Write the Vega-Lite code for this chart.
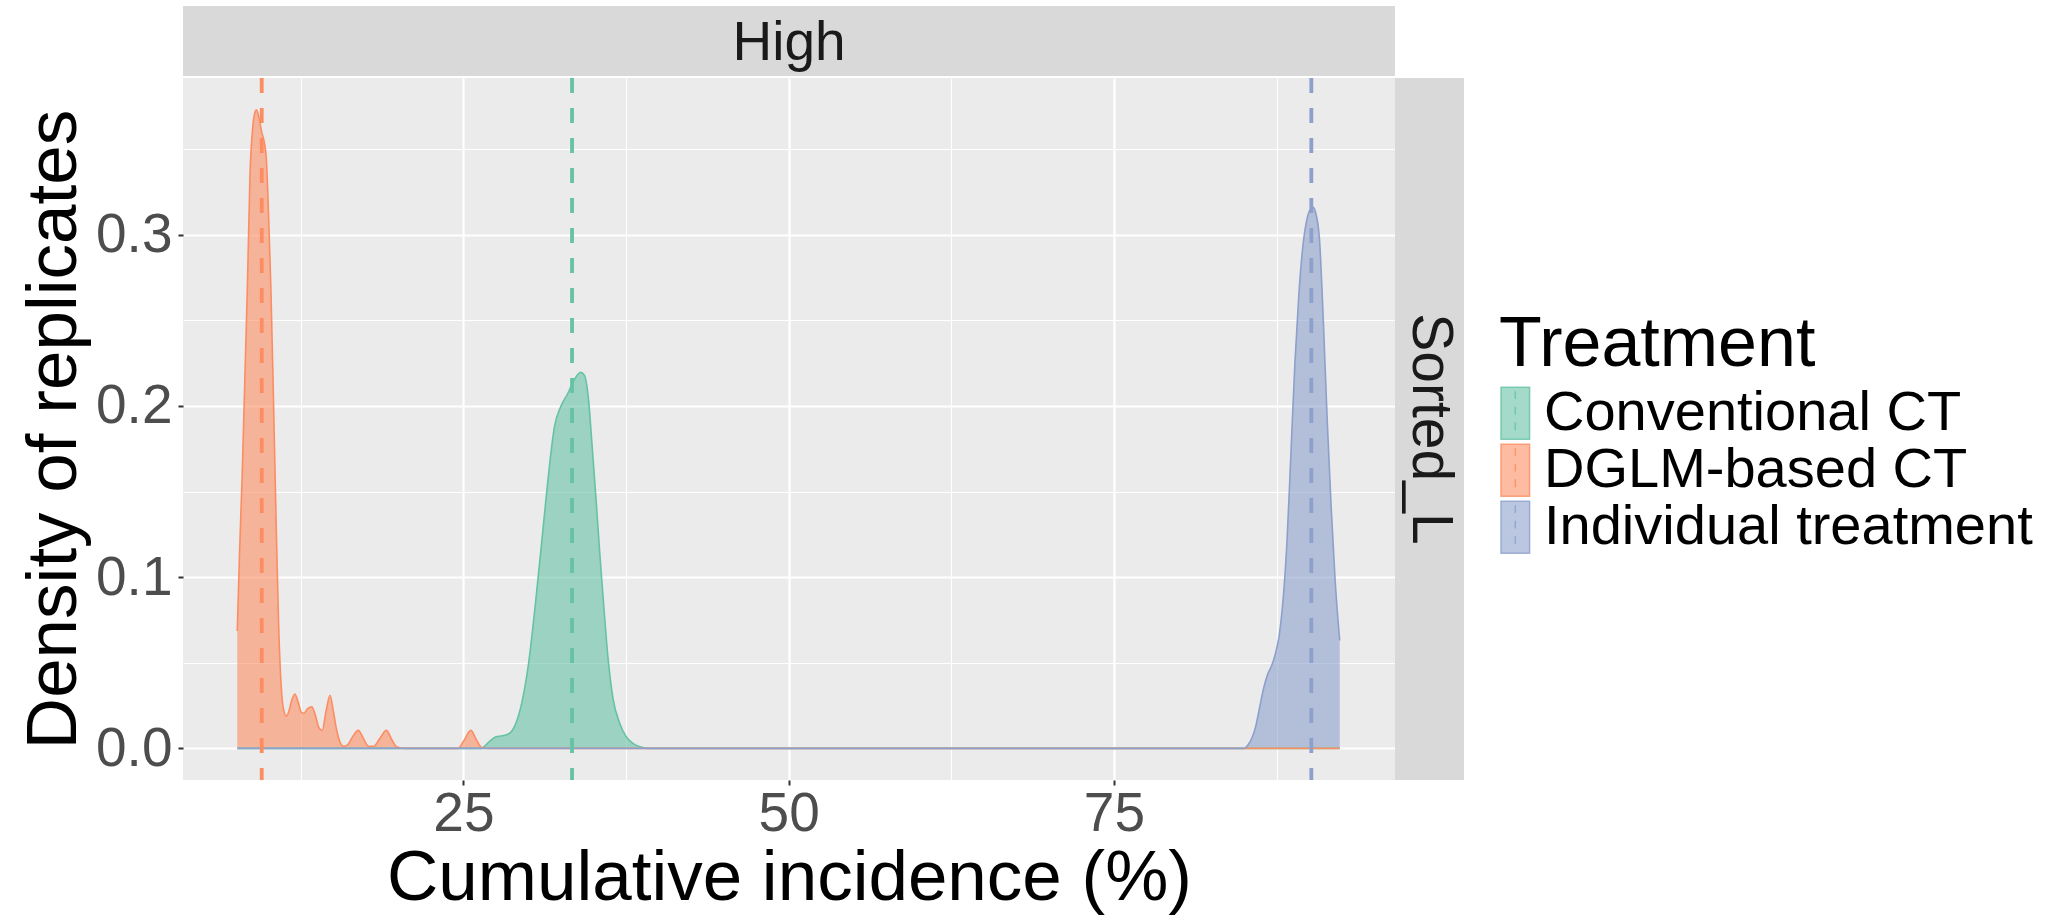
{
  "$schema": "https://vega.github.io/schema/vega-lite/v6.json",
  "background": "white",
  "padding": {"left": 18, "top": 6, "right": 5, "bottom": 5},
  "config": {
    "font": "Liberation Sans",
    "view": {"stroke": null},
    "text": {"font": "Liberation Sans"}
  },
  "datasets": {
    "density": [
      {"treatment": "Conventional CT", "incidence": 7.62, "density": 0},
      {"treatment": "Conventional CT", "incidence": 26.4, "density": 0},
      {"treatment": "Conventional CT", "incidence": 26.6, "density": 0.001},
      {"treatment": "Conventional CT", "incidence": 27.0, "density": 0.004},
      {"treatment": "Conventional CT", "incidence": 27.5, "density": 0.0068},
      {"treatment": "Conventional CT", "incidence": 28.0, "density": 0.0073},
      {"treatment": "Conventional CT", "incidence": 28.5, "density": 0.0085},
      {"treatment": "Conventional CT", "incidence": 29.0, "density": 0.014},
      {"treatment": "Conventional CT", "incidence": 29.5, "density": 0.027},
      {"treatment": "Conventional CT", "incidence": 30.0, "density": 0.049},
      {"treatment": "Conventional CT", "incidence": 30.5, "density": 0.082},
      {"treatment": "Conventional CT", "incidence": 31.0, "density": 0.119},
      {"treatment": "Conventional CT", "incidence": 31.5, "density": 0.157},
      {"treatment": "Conventional CT", "incidence": 32.0, "density": 0.188},
      {"treatment": "Conventional CT", "incidence": 32.5, "density": 0.200},
      {"treatment": "Conventional CT", "incidence": 33.0, "density": 0.207},
      {"treatment": "Conventional CT", "incidence": 33.5, "density": 0.215},
      {"treatment": "Conventional CT", "incidence": 34.0, "density": 0.2197},
      {"treatment": "Conventional CT", "incidence": 34.3, "density": 0.218},
      {"treatment": "Conventional CT", "incidence": 34.6, "density": 0.205},
      {"treatment": "Conventional CT", "incidence": 34.9, "density": 0.176},
      {"treatment": "Conventional CT", "incidence": 35.2, "density": 0.145},
      {"treatment": "Conventional CT", "incidence": 35.5, "density": 0.112},
      {"treatment": "Conventional CT", "incidence": 35.8, "density": 0.082},
      {"treatment": "Conventional CT", "incidence": 36.1, "density": 0.054},
      {"treatment": "Conventional CT", "incidence": 36.5, "density": 0.029},
      {"treatment": "Conventional CT", "incidence": 37.0, "density": 0.015},
      {"treatment": "Conventional CT", "incidence": 37.5, "density": 0.007},
      {"treatment": "Conventional CT", "incidence": 38.0, "density": 0.003},
      {"treatment": "Conventional CT", "incidence": 38.5, "density": 0.001},
      {"treatment": "Conventional CT", "incidence": 39.2, "density": 0},
      {"treatment": "Conventional CT", "incidence": 92.35, "density": 0},
      {"treatment": "DGLM-based CT", "incidence": 7.62, "density": 0.0685},
      {"treatment": "DGLM-based CT", "incidence": 7.8, "density": 0.115},
      {"treatment": "DGLM-based CT", "incidence": 8.0, "density": 0.160},
      {"treatment": "DGLM-based CT", "incidence": 8.2, "density": 0.215},
      {"treatment": "DGLM-based CT", "incidence": 8.4, "density": 0.270},
      {"treatment": "DGLM-based CT", "incidence": 8.6, "density": 0.335},
      {"treatment": "DGLM-based CT", "incidence": 8.8, "density": 0.362},
      {"treatment": "DGLM-based CT", "incidence": 9.0, "density": 0.372},
      {"treatment": "DGLM-based CT", "incidence": 9.1, "density": 0.373},
      {"treatment": "DGLM-based CT", "incidence": 9.3, "density": 0.368},
      {"treatment": "DGLM-based CT", "incidence": 9.5, "density": 0.360},
      {"treatment": "DGLM-based CT", "incidence": 9.7, "density": 0.354},
      {"treatment": "DGLM-based CT", "incidence": 9.85, "density": 0.345},
      {"treatment": "DGLM-based CT", "incidence": 10.0, "density": 0.318},
      {"treatment": "DGLM-based CT", "incidence": 10.2, "density": 0.270},
      {"treatment": "DGLM-based CT", "incidence": 10.4, "density": 0.205},
      {"treatment": "DGLM-based CT", "incidence": 10.6, "density": 0.135},
      {"treatment": "DGLM-based CT", "incidence": 10.8, "density": 0.072},
      {"treatment": "DGLM-based CT", "incidence": 11.0, "density": 0.036},
      {"treatment": "DGLM-based CT", "incidence": 11.2, "density": 0.022},
      {"treatment": "DGLM-based CT", "incidence": 11.4, "density": 0.0188},
      {"treatment": "DGLM-based CT", "incidence": 11.6, "density": 0.022},
      {"treatment": "DGLM-based CT", "incidence": 11.8, "density": 0.028},
      {"treatment": "DGLM-based CT", "incidence": 12.05, "density": 0.0317},
      {"treatment": "DGLM-based CT", "incidence": 12.3, "density": 0.027},
      {"treatment": "DGLM-based CT", "incidence": 12.55, "density": 0.021},
      {"treatment": "DGLM-based CT", "incidence": 12.75, "density": 0.0205},
      {"treatment": "DGLM-based CT", "incidence": 13.0, "density": 0.023},
      {"treatment": "DGLM-based CT", "incidence": 13.35, "density": 0.0243},
      {"treatment": "DGLM-based CT", "incidence": 13.6, "density": 0.020},
      {"treatment": "DGLM-based CT", "incidence": 13.9, "density": 0.012},
      {"treatment": "DGLM-based CT", "incidence": 14.15, "density": 0.0105},
      {"treatment": "DGLM-based CT", "incidence": 14.45, "density": 0.022},
      {"treatment": "DGLM-based CT", "incidence": 14.75, "density": 0.031},
      {"treatment": "DGLM-based CT", "incidence": 15.0, "density": 0.022},
      {"treatment": "DGLM-based CT", "incidence": 15.25, "density": 0.011},
      {"treatment": "DGLM-based CT", "incidence": 15.5, "density": 0.004},
      {"treatment": "DGLM-based CT", "incidence": 15.8, "density": 0.0012},
      {"treatment": "DGLM-based CT", "incidence": 16.1, "density": 0.002},
      {"treatment": "DGLM-based CT", "incidence": 16.5, "density": 0.007},
      {"treatment": "DGLM-based CT", "incidence": 16.92, "density": 0.0105},
      {"treatment": "DGLM-based CT", "incidence": 17.3, "density": 0.006},
      {"treatment": "DGLM-based CT", "incidence": 17.7, "density": 0.0012},
      {"treatment": "DGLM-based CT", "incidence": 18.1, "density": 0.0012},
      {"treatment": "DGLM-based CT", "incidence": 18.6, "density": 0.006},
      {"treatment": "DGLM-based CT", "incidence": 19.08, "density": 0.0105},
      {"treatment": "DGLM-based CT", "incidence": 19.5, "density": 0.005},
      {"treatment": "DGLM-based CT", "incidence": 19.9, "density": 0.0008},
      {"treatment": "DGLM-based CT", "incidence": 20.5, "density": 0},
      {"treatment": "DGLM-based CT", "incidence": 24.6, "density": 0},
      {"treatment": "DGLM-based CT", "incidence": 25.0, "density": 0.004},
      {"treatment": "DGLM-based CT", "incidence": 25.57, "density": 0.0105},
      {"treatment": "DGLM-based CT", "incidence": 26.0, "density": 0.005},
      {"treatment": "DGLM-based CT", "incidence": 26.4, "density": 0.0005},
      {"treatment": "DGLM-based CT", "incidence": 27.0, "density": 0},
      {"treatment": "DGLM-based CT", "incidence": 92.35, "density": 0},
      {"treatment": "Individual treatment", "incidence": 7.62, "density": 0},
      {"treatment": "Individual treatment", "incidence": 85.0, "density": 0},
      {"treatment": "Individual treatment", "incidence": 85.3, "density": 0.002},
      {"treatment": "Individual treatment", "incidence": 85.6, "density": 0.006},
      {"treatment": "Individual treatment", "incidence": 85.9, "density": 0.013},
      {"treatment": "Individual treatment", "incidence": 86.2, "density": 0.024},
      {"treatment": "Individual treatment", "incidence": 86.5, "density": 0.035},
      {"treatment": "Individual treatment", "incidence": 86.8, "density": 0.043},
      {"treatment": "Individual treatment", "incidence": 87.1, "density": 0.048},
      {"treatment": "Individual treatment", "incidence": 87.4, "density": 0.055},
      {"treatment": "Individual treatment", "incidence": 87.7, "density": 0.066},
      {"treatment": "Individual treatment", "incidence": 88.0, "density": 0.087},
      {"treatment": "Individual treatment", "incidence": 88.3, "density": 0.121},
      {"treatment": "Individual treatment", "incidence": 88.6, "density": 0.172},
      {"treatment": "Individual treatment", "incidence": 88.9, "density": 0.224},
      {"treatment": "Individual treatment", "incidence": 89.2, "density": 0.264},
      {"treatment": "Individual treatment", "incidence": 89.5, "density": 0.292},
      {"treatment": "Individual treatment", "incidence": 89.8, "density": 0.308},
      {"treatment": "Individual treatment", "incidence": 90.1, "density": 0.315},
      {"treatment": "Individual treatment", "incidence": 90.3, "density": 0.316},
      {"treatment": "Individual treatment", "incidence": 90.5, "density": 0.313},
      {"treatment": "Individual treatment", "incidence": 90.8, "density": 0.297},
      {"treatment": "Individual treatment", "incidence": 91.1, "density": 0.248},
      {"treatment": "Individual treatment", "incidence": 91.4, "density": 0.190},
      {"treatment": "Individual treatment", "incidence": 91.7, "density": 0.140},
      {"treatment": "Individual treatment", "incidence": 92.0, "density": 0.098},
      {"treatment": "Individual treatment", "incidence": 92.35, "density": 0.063}
    ],
    "means": [
      {"treatment": "Conventional CT", "mean": 33.35},
      {"treatment": "DGLM-based CT", "mean": 9.5},
      {"treatment": "Individual treatment", "mean": 90.17}
    ],
    "stripTop": [{"label": "High"}],
    "stripRight": [{"label": "Sorted_L"}]
  },
  "columns": 2,
  "spacing": 0,
  "align": "each",
  "concat": [
    {
      "width": 1212,
      "height": 70,
      "view": {"fill": "#D9D9D9", "stroke": null},
      "data": {"name": "stripTop"},
      "mark": {"type": "text", "fontSize": 55, "color": "#1A1A1A", "baseline": "middle", "align": "center", "dy": 2},
      "encoding": {"text": {"field": "label"}}
    },
    {
      "width": 69,
      "height": 70,
      "data": {"name": "stripTop"},
      "mark": {"type": "text", "opacity": 0},
      "encoding": {"text": {"field": "label"}}
    },
    {
      "width": 1212,
      "height": 702,
      "view": {"fill": "#EBEBEB", "stroke": null},
      "encoding": {
        "x": {
          "field": "incidence",
          "type": "quantitative",
          "scale": {"domain": [3.45, 96.6], "nice": false, "zero": false},
          "axis": {
            "values": [12.5, 25, 37.5, 50, 62.5, 75, 87.5],
            "format": "d",
            "labelExpr": "datum.value % 25 === 0 ? datum.label : ''",
            "title": "Cumulative incidence (%)",
            "titleFontSize": 71,
            "titleFontWeight": "normal",
            "titleColor": "#000000",
            "titlePadding": 2,
            "labelFontSize": 55,
            "labelColor": "#4D4D4D",
            "labelPadding": 2,
            "tickSize": 5,
            "tickWidth": 2,
            "tickColor": "#333333",
            "tickOpacity": {"condition": {"test": "datum.value % 25 === 0", "value": 1}, "value": 0},
            "domain": false,
            "grid": true,
            "gridColor": "#FFFFFF",
            "gridOpacity": 1,
            "gridWidth": {"condition": {"test": "datum.value % 25 === 0", "value": 2.2}, "value": 1.1},
            "labelFlush": false
          }
        },
        "color": {
          "field": "treatment",
          "type": "nominal",
          "scale": {
            "domain": ["Conventional CT", "DGLM-based CT", "Individual treatment"],
            "range": ["#66C2A5", "#FC8D62", "#8DA0CB"]
          },
          "legend": {
            "title": "Treatment",
            "orient": "none",
            "legendX": 1316,
            "legendY": 305,
            "padding": 0,
            "titleFontSize": 70,
            "titleFontWeight": "normal",
            "titleColor": "#000000",
            "titlePadding": 5,
            "titleLimit": 1000,
            "labelFontSize": 56,
            "labelColor": "#000000",
            "labelLimit": 1000,
            "labelOffset": -11,
            "symbolType": "M-1,-1H0.1V1H-1ZM-0.45,-0.85V-0.55M-0.45,-0.25V0.05M-0.45,0.35V0.65",
            "symbolSize": 2704,
            "symbolStrokeWidth": 1.5,
            "symbolOpacity": 1,
            "clipHeight": 54.5,
            "rowPadding": 0,
            "encode": {
              "symbols": {
                "update": {
                  "fill": {"scale": "color", "field": "value"},
                  "fillOpacity": {"value": 0.6},
                  "stroke": {"scale": "color", "field": "value"},
                  "strokeOpacity": {"value": 0.8}
                }
              }
            }
          }
        }
      },
      "layer": [
        {
          "data": {"name": "density"},
          "mark": {"type": "area", "interpolate": "monotone", "fillOpacity": 0.6},
          "encoding": {
            "y": {
              "field": "density",
              "type": "quantitative",
              "stack": null,
              "scale": {"domain": [-0.0185, 0.3916], "nice": false, "zero": false},
              "axis": {
                "values": [0, 0.05, 0.1, 0.15, 0.2, 0.25, 0.3, 0.35],
                "format": ".1f",
                "labelExpr": "round(datum.value * 100) % 10 === 0 ? datum.label : ''",
                "title": "Density of replicates",
                "titleFontSize": 71,
                "titleFontWeight": "normal",
                "titleColor": "#000000",
                "titlePadding": 5,
                "labelFontSize": 55,
                "labelColor": "#4D4D4D",
                "labelPadding": 6,
                "tickSize": 5,
                "tickWidth": 2,
                "tickColor": "#333333",
                "tickOpacity": {"condition": {"test": "round(datum.value * 100) % 10 === 0", "value": 1}, "value": 0},
                "domain": false,
                "grid": true,
                "gridColor": "#FFFFFF",
                "gridOpacity": 1,
                "gridWidth": {"condition": {"test": "round(datum.value * 100) % 10 === 0", "value": 2.2}, "value": 1.1},
                "labelFlush": false
              }
            },
            "y2": {"datum": 0}
          }
        },
        {
          "data": {"name": "density"},
          "mark": {"type": "line", "interpolate": "monotone", "strokeWidth": 1.6},
          "encoding": {
            "y": {"field": "density", "type": "quantitative"}
          }
        },
        {
          "data": {"name": "means"},
          "mark": {"type": "rule", "strokeDash": [15, 15], "strokeWidth": 3.8},
          "encoding": {
            "x": {"field": "mean", "type": "quantitative"}
          }
        }
      ]
    },
    {
      "width": 69,
      "height": 702,
      "view": {"fill": "#D9D9D9", "stroke": null},
      "data": {"name": "stripRight"},
      "mark": {"type": "text", "fontSize": 57, "color": "#1A1A1A", "baseline": "middle", "align": "center", "angle": 90},
      "encoding": {"text": {"field": "label"}}
    }
  ]
}
